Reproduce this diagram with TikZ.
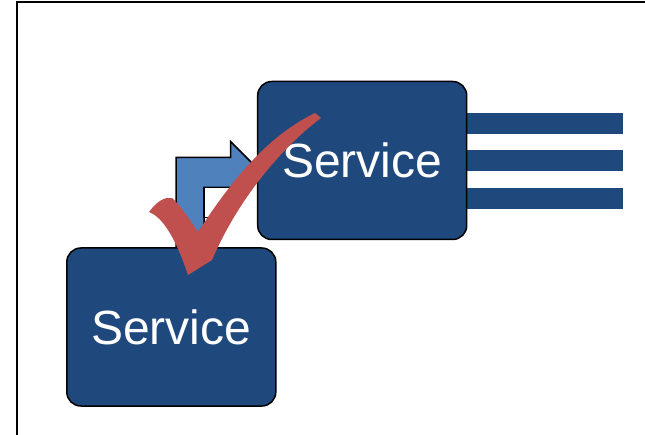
\documentclass[tikz,border=0pt]{standalone}
\usepackage{fontspec}
\setmainfont{Liberation Sans}
\definecolor{svcblue}{HTML}{1F497D}
\definecolor{arrowblue}{HTML}{4F81BD}
\definecolor{checkred}{HTML}{C0504D}
\tikzset{
    service/.style={draw=black, line width=1.5pt, fill=svcblue, rounded corners=14pt,
        minimum width=209pt, minimum height=158pt, inner sep=0pt,
        text=white, font=\fontsize{48}{58}\selectfont},
    bar/.style={fill=svcblue, draw=none}
}
\begin{document}
\begin{tikzpicture}[x=1pt, y=-1pt]
            \useasboundingbox (0,0) rectangle (645,435);

            \def\xs{176};
            \def\xi{204};
            \def\xh{230.7};

            \draw[line width=2pt] (16.5,445) -- (16.5,2.5) -- (655,2.5);

            \filldraw[fill=arrowblue, draw=black, line width=1.5pt]
                (\xs,252) -- (\xs,157.3) -- (\xh,157.3) -- (\xh,141.7) -- (261.3,172.3)
                -- (\xh,203) -- (\xh,187.3) -- (\xi,187.3) -- (\xi,252) -- cycle;
            \filldraw[fill=white, draw=black, line width=1.5pt] (\xi,187.3) rectangle (230,217.7);

            \fill[bar] (460,112.7) rectangle (623,133.7);
            \fill[bar] (460,150) rectangle (623,171);
            \fill[bar] (460,188.3) rectangle (623,209.3);

            \node[service] (upper) at (362.2,160.5) {Service};
            \node[service] (lower) at (171.3,327) {Service};

            \fill[checkred] (149,212) .. controls (158,200) and (165,197) .. (172,198)
                .. controls (180,205) and (190,220) .. (198,232)
                .. controls (235,175) and (270,135) .. (315,113)
                -- (321,118)
                .. controls (285,145) and (240,195) .. (212,260)
                -- (188,275)
                .. controls (178,245) and (165,218) .. (149,212) -- cycle;
        \end{tikzpicture}
\end{document}
